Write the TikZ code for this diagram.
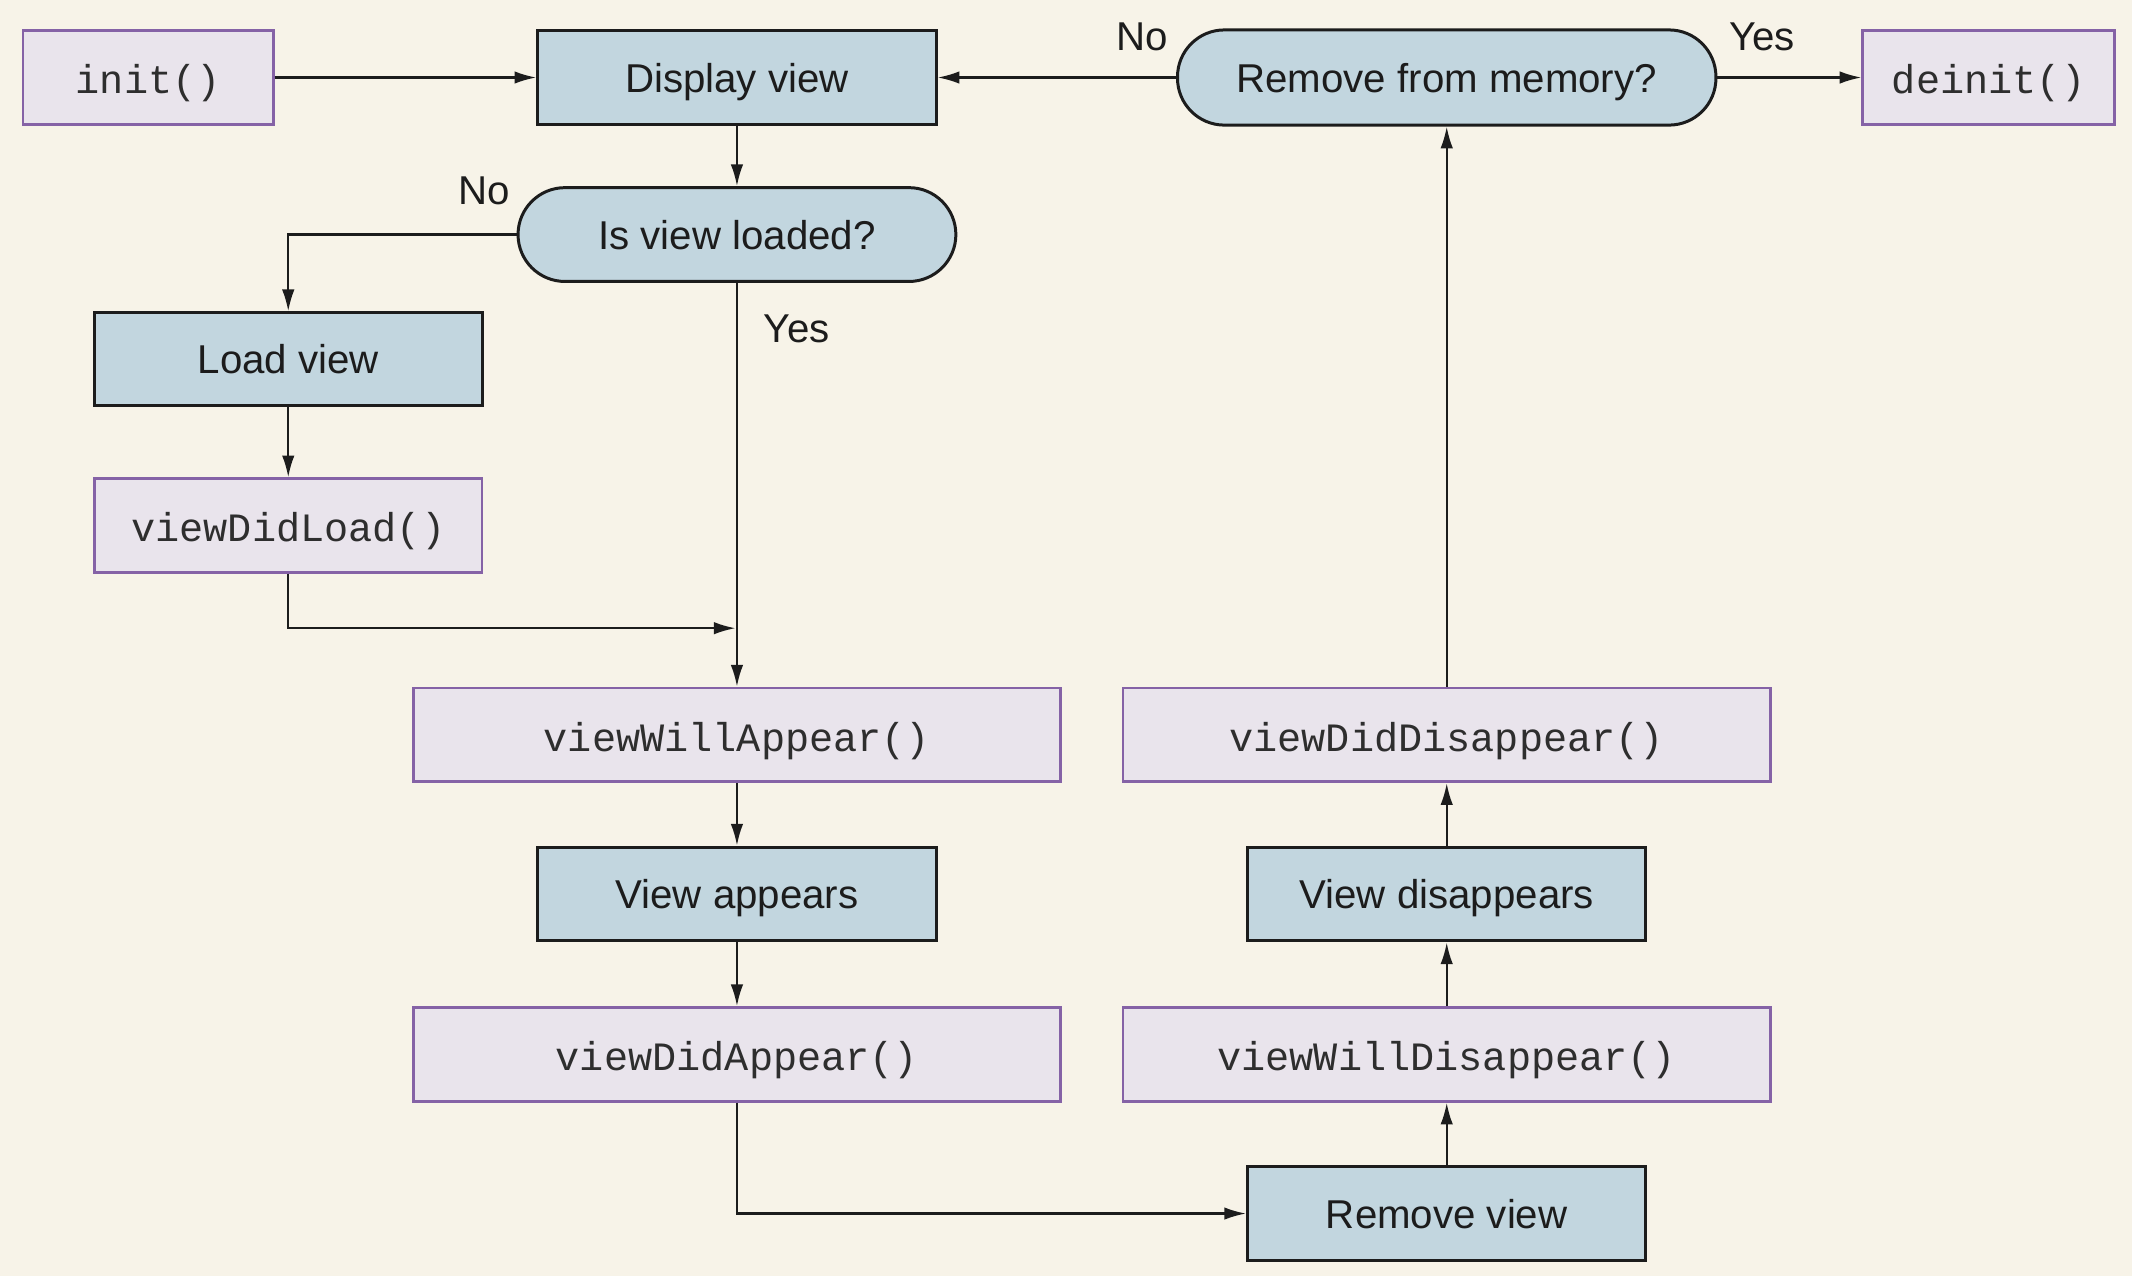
\documentclass[tikz,border=0pt]{standalone}
\usepackage{fontspec}
\setmainfont{Liberation Sans}
\setmonofont{Liberation Mono}
\usetikzlibrary{arrows.meta}
\definecolor{bgc}{HTML}{F7F3E8}
\definecolor{bluec}{HTML}{C2D6DF}
\definecolor{lilac}{HTML}{E9E4EC}
\definecolor{purp}{HTML}{8562A6}
\definecolor{ink}{HTML}{1C1C1C}
\definecolor{monoink}{HTML}{2E2E2E}
\tikzset{
  base/.style={inner sep=0pt, anchor=center, font=\fontsize{14.8pt}{17pt}\selectfont, text=ink},
  boxtext/.style={text height=11pt, text depth=0pt},
  actbox/.style={base, boxtext, draw=ink, line width=1.1pt, fill=bluec, minimum height=34.5pt},
  callbox/.style={base, draw=purp, line width=1pt, fill=lilac, minimum height=34.5pt, text height=12pt, text depth=0pt, text=monoink, font=\fontsize{14.8pt}{17pt}\selectfont\ttfamily},
  decbox/.style={base, boxtext, draw=ink, line width=1.1pt, fill=bluec, minimum height=34.5pt, rounded corners=17.25pt},
  lbl/.style={base},
  arr/.style={draw=ink, line width=0.8pt, -{Latex[length=8pt,width=4.6pt]}},
}
\begin{document}
\begin{tikzpicture}[x=0.5pt,y=-0.5pt]
\fill[bgc] (0,0) rectangle (1568,938.4);
\useasboundingbox (0,0) rectangle (1568,938.4);

\node[callbox, minimum width=92pt] (init) at (109,57) {init()};
\node[actbox, minimum width=146.5pt] (display) at (542,57) {Display view};
\node[decbox, minimum width=198pt, minimum height=35pt] (rfm) at (1064,57) {Remove from memory?};
\node[callbox, minimum width=92.5pt] (deinit) at (1462.5,57) {deinit()};
\node[decbox, minimum width=161pt] (isloaded) at (542,172.5) {Is view loaded?};
\node[actbox, minimum width=142.5pt, minimum height=34pt] (loadview) at (212,264) {Load view};
\node[callbox, minimum width=142.5pt] (didload) at (212,386.5) {viewDidLoad()};
\node[callbox, minimum width=238pt] (willappear) at (542,540.5) {viewWillAppear()};
\node[callbox, minimum width=238pt] (diddisappear) at (1064,540.5) {viewDidDisappear()};
\node[actbox, minimum width=146.5pt] (appears) at (542,657.5) {View appears};
\node[actbox, minimum width=146.5pt] (disappears) at (1064,657.5) {View disappears};
\node[callbox, minimum width=238pt] (didappear) at (542,775.5) {viewDidAppear()};
\node[callbox, minimum width=238pt] (willdisappear) at (1064,775.5) {viewWillDisappear()};
\node[actbox, minimum width=146.5pt] (removeview) at (1064,892.5) {Remove view};

\node[lbl] (no1) at (356,140) {No};
\node[lbl] (yes1) at (586,242) {Yes};
\node[lbl] (no2) at (840,27) {No};
\node[lbl] (yes2) at (1296,27) {Yes};

\coordinate (join) at (541,462);

\draw[arr] (init.east) -- (display.west);
\draw[arr] (rfm.west) -- (display.east);
\draw[arr] (rfm.east) -- (deinit.west);
\draw[arr] (display.south) -- (isloaded.north);
\draw[arr] (isloaded.west) -| (loadview.north);
\draw[arr] (loadview.south) -- (didload.north);
\draw[arr] (didload.south) |- (join);
\draw[arr] (isloaded.south) -- (willappear.north);
\draw[arr] (willappear.south) -- (appears.north);
\draw[arr] (appears.south) -- (didappear.north);
\draw[arr] (didappear.south) |- (removeview.west);
\draw[arr] (removeview.north) -- (willdisappear.south);
\draw[arr] (willdisappear.north) -- (disappears.south);
\draw[arr] (disappears.north) -- (diddisappear.south);
\draw[arr] (diddisappear.north) -- (rfm.south);
\end{tikzpicture}
\end{document}
